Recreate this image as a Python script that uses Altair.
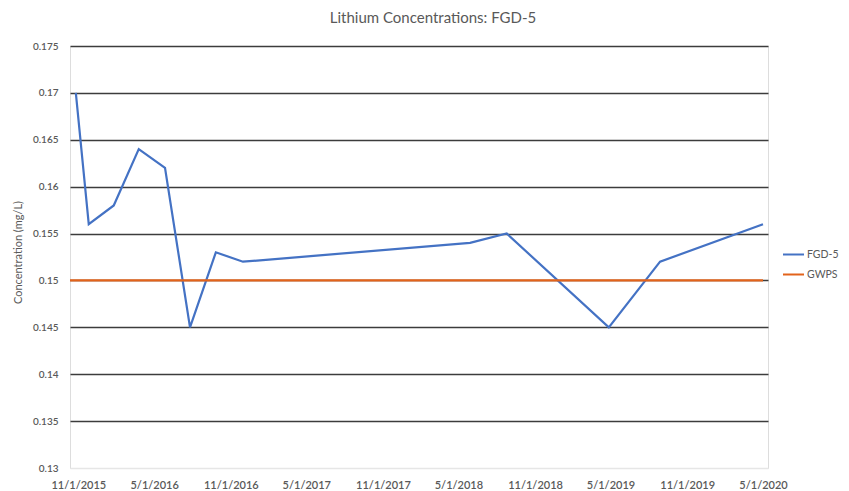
import altair as alt
import pandas as pd

# FGD-5 lithium concentration samples (mg/L)
fgd_dates = ["2015-10-26", "2015-11-26", "2016-01-25", "2016-03-25", "2016-05-27",
             "2016-07-26", "2016-09-26", "2016-11-30", "2018-05-29", "2018-08-25",
             "2019-04-27", "2019-08-28", "2020-05-01"]
fgd_values = [0.170, 0.156, 0.158, 0.164, 0.162,
              0.145, 0.153, 0.152, 0.154, 0.155,
              0.145, 0.152, 0.156]

# Groundwater protection standard
gwps_dates = ["2015-10-12", "2020-05-01"]
gwps_values = [0.150, 0.150]

x_ticks = [(2015, 11), (2016, 5), (2016, 11), (2017, 5), (2017, 11),
           (2018, 5), (2018, 11), (2019, 5), (2019, 11), (2020, 5)]
y_ticks = [0.13, 0.135, 0.14, 0.145, 0.15, 0.155, 0.16, 0.165, 0.17, 0.175]

series_names = ["FGD-5", "GWPS"]
series_colors = ["#4472C4", "#E2631B"]

df = pd.DataFrame({
    "date": fgd_dates + gwps_dates,
    "value": fgd_values + gwps_values,
    "series": ["FGD-5"] * len(fgd_dates) + ["GWPS"] * len(gwps_dates),
})

FONT = "Lato"
TXT = "#595959"

x_enc = alt.X(
    "date:T",
    scale=alt.Scale(domain=[alt.DateTime(year=2015, month=10, date=12, utc=True),
                            alt.DateTime(year=2020, month=5, date=13, utc=True)]),
    axis=alt.Axis(
        values=[alt.DateTime(year=y, month=m, date=1, utc=True) for y, m in x_ticks],
        labelExpr="utcFormat(datum.value, '%-m/%-d/%Y')",
        grid=False, domain=False, ticks=False, labelPadding=11,
        labelFlush=False, labelOverlap=False, labelBound=False,
        labelFont=FONT, labelFontSize=11, labelColor=TXT, labelFontWeight=600,
        title=None,
    ),
)

y_enc = alt.Y(
    "value:Q",
    scale=alt.Scale(domain=[0.13, 0.175], nice=False, zero=False),
    axis=alt.Axis(
        values=y_ticks, format=".3~f",
        grid=True,
        gridColor=alt.condition("datum.value < 0.1301", alt.value("#e6e6e6"), alt.value("#3c3c3c")),
        gridWidth=1.6,
        domain=False, ticks=False, labelPadding=12,
        labelFont=FONT, labelFontSize=10, labelColor=TXT, labelFontWeight=600,
        title="Concentration (mg/L)", titleFont=FONT, titleFontSize=11,
        titleColor=TXT, titleFontWeight="normal",
        titleX=-52, titleY=206, titleAngle=270,
        titleAlign="center", titleBaseline="middle",
    ),
)

color_enc = alt.Color(
    "series:N",
    scale=alt.Scale(domain=series_names, range=series_colors),
    legend=alt.Legend(
        title=None, orient="none", legendX=712, legendY=197,
        symbolType="stroke", symbolSize=441, symbolStrokeWidth=2,
        labelFont=FONT, labelFontSize=10.5, labelColor=TXT,
        rowPadding=3, padding=0, labelOffset=2,
    ),
)

chart = alt.Chart(df).mark_line(strokeWidth=2.2).encode(
    x=x_enc, y=y_enc, color=color_enc, detail="series:N",
).properties(
    width=698, height=422,
    title=alt.TitleParams("Lithium Concentrations: FGD-5", font=FONT, fontSize=15,
                          color=TXT, fontWeight="normal", anchor="middle",
                          dx=14, offset=15),
    autosize=alt.AutoSizeParams(type="none"),
    padding={"left": 62, "top": 38, "right": 73, "bottom": 24},
).configure_view(stroke=None).configure(background="white")

chart.save("out.html", embed_options={"renderer": "svg", "actions": False})
